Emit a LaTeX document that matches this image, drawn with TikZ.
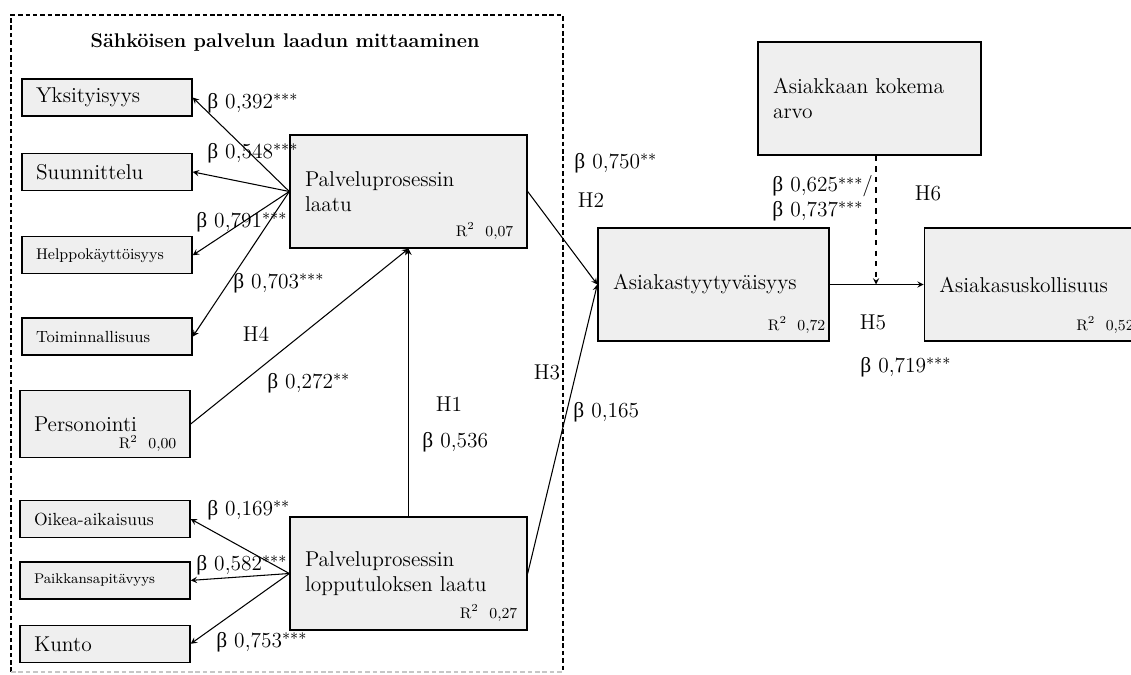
\documentclass[tikz,border=0pt]{standalone}
\usepackage{fontspec}
\usepackage{tikz}
\usepackage{xcolor}
\usetikzlibrary{positioning}
\usetikzlibrary{arrows}
\newfontfamily\betafont{Liberation Serif}
\newcommand*{\bcoef}{{\betafont β}}
\newcommand*{\sig}[1]{\raisebox{1.6pt}{\fontsize{9}{9}\selectfont #1}}
\definecolor{boxfill}{HTML}{EFEFEF}
\tikzset{
  factor/.style={draw, line width=0.8pt, fill=boxfill,
    font=\fontsize{12.2}{14.5}\selectfont, align=left, inner ysep=0pt},
  indicator/.style={factor, inner xsep=0.28cm, text width=2.84cm, minimum height=0.74cm},
  construct/.style={factor, inner xsep=0.3cm, minimum height=2.26cm},
  smalltext/.style={font=\fontsize{#1}{#1}\selectfont},
  coef/.style={font=\fontsize{12.2}{14}\selectfont, inner sep=0pt, anchor=west, align=left},
  hyp/.style={font=\fontsize{12.2}{14}\selectfont, inner sep=0pt},
  rsq/.style={font=\fontsize{8.7}{10}\selectfont, inner sep=0pt},
  link/.style={-stealth, line width=0.6pt},
  groupframe/.style={line width=0.6pt, dash pattern=on 2.6pt off 1.6pt},
}

\begin{document}
\begin{tikzpicture}[x=0.02cm, y=-0.02cm]
\useasboundingbox (0,0) rectangle (1131,675);

% Measurement frame
\draw[groupframe] (11,672) -- (11,15) -- (563,15) -- (563,672);
\draw[groupframe, gray!45] (11,672) -- (563,672);
\node[font=\fontsize{11.3}{13}\selectfont\bfseries] (title) at (285,43)
    {Sähköisen palvelun laadun mittaaminen};

% Service process quality
\node[construct, text width=4.14cm] (laatu) at (408.5,191.5)
    {Palveluprosessin\\laatu};
\node[construct, text width=4.14cm] (loppu) at (408.5,573.5)
    {Palveluprosessin\\lopputuloksen laatu};
\node[rsq, above left=0.18cm and 0.28cm of laatu.south east] {R\textsuperscript{2}~~0,07};
\node[rsq, above left=0.18cm and 0.2cm of loppu.south east] {R\textsuperscript{2}~~0,27};

% Indicators of process quality
\node[indicator] (yks) at (107,97.5) {Yksityisyys};
\node[indicator, below=0.72cm of yks] (suu) {Suunnittelu};
\node[indicator, smalltext=8.8, below=0.9cm of suu] (hel) {Helppokäyttöisyys};
\node[indicator, smalltext=9.2, below=0.86cm of hel] (toi) {Toiminnallisuus};

% Personalisation
\node[indicator, minimum height=1.34cm] (per) at (105,424) {Personointi};
\node[rsq, above left=0.12cm and 0.28cm of per.south east] {R\textsuperscript{2}~~0,00};

% Indicators of outcome quality
\node[indicator, smalltext=10] (oik) at (105,519) {Oikea-aikaisuus};
\node[indicator, smalltext=8, below=0.46cm of oik] (pai) {Paikkansapitävyys};
\node[indicator, below=0.5cm of pai] (kun) {Kunto};

% Customer side
\node[construct, text width=4.02cm] (tyyt) at (713.5,284.5) {Asiakastyytyväisyys};
\node[construct, text width=3.74cm, right=1.88cm of tyyt] (usk) {Asiakasuskollisuus};
\node[construct, text width=3.86cm] (arvo) at (869.5,98.5) {Asiakkaan kokema\\arvo};
\node[rsq, above left=0.16cm and 0.08cm of tyyt.south east] {R\textsuperscript{2}~~0,72};
\node[rsq, above left=0.16cm and 0.16cm of usk.south east] {R\textsuperscript{2}~~0,52};

% Loadings
\draw[link] (laatu.west) -- (yks.east);
\draw[link] (laatu.west) -- (suu.east);
\draw[link] (laatu.west) -- (hel.east);
\draw[link] (laatu.west) -- (toi.east);
\draw[link] (loppu.west) -- (oik.east);
\draw[link] (loppu.west) -- (pai.east);
\draw[link] (loppu.west) -- (kun.east);

% Structural paths
\draw[link] (per.east) -- (laatu.south);
\draw[link] (loppu.north) -- (laatu.south);
\draw[link] (laatu.east) -- (tyyt.west);
\draw[link] (loppu.east) -- (tyyt.west);
\draw[link] (tyyt.east) -- (usk.west);
\coordinate (mod) at (876,284.5);
\draw[link, dashed] (arvo.south -| mod) -- (mod);

% Coefficients
\node[coef] (c1) at (207,103) {\bcoef\ 0,392\sig{***}};
\node[coef] (c2) at (207,153) {\bcoef\ 0,548\sig{***}};
\node[coef] (c3) at (196,222) {\bcoef\ 0,791\sig{***}};
\node[coef] (c4) at (233,283) {\bcoef\ 0,703\sig{***}};
\node[coef] (c5) at (267,383) {\bcoef\ 0,272\sig{**}};
\node[coef] (c6) at (422,442) {\bcoef\ 0,536};
\node[coef] (c7) at (207,510) {\bcoef\ 0,169\sig{**}};
\node[coef] (c8) at (196,565) {\bcoef\ 0,582\sig{***}};
\node[coef] (c9) at (216,642) {\bcoef\ 0,753\sig{***}};
\node[coef] (c10) at (574,163) {\bcoef\ 0,750\sig{**}};
\node[coef] (c11) at (573,412) {\bcoef\ 0,165};
\node[coef] (c12) at (772,198.5) {\bcoef\ 0,625\sig{***}/\\\bcoef\ 0,737\sig{***}};
\node[coef] (c13) at (860,367) {\bcoef\ 0,719\sig{***}};

% Hypotheses
\node[hyp] (h1) at (449,404) {H1};
\node[hyp] (h2) at (591,200) {H2};
\node[hyp] (h3) at (547,372) {H3};
\node[hyp] (h4) at (256,334) {H4};
\node[hyp] (h5) at (873,322) {H5};
\node[hyp] (h6) at (928,193) {H6};

\end{tikzpicture}
\end{document}
